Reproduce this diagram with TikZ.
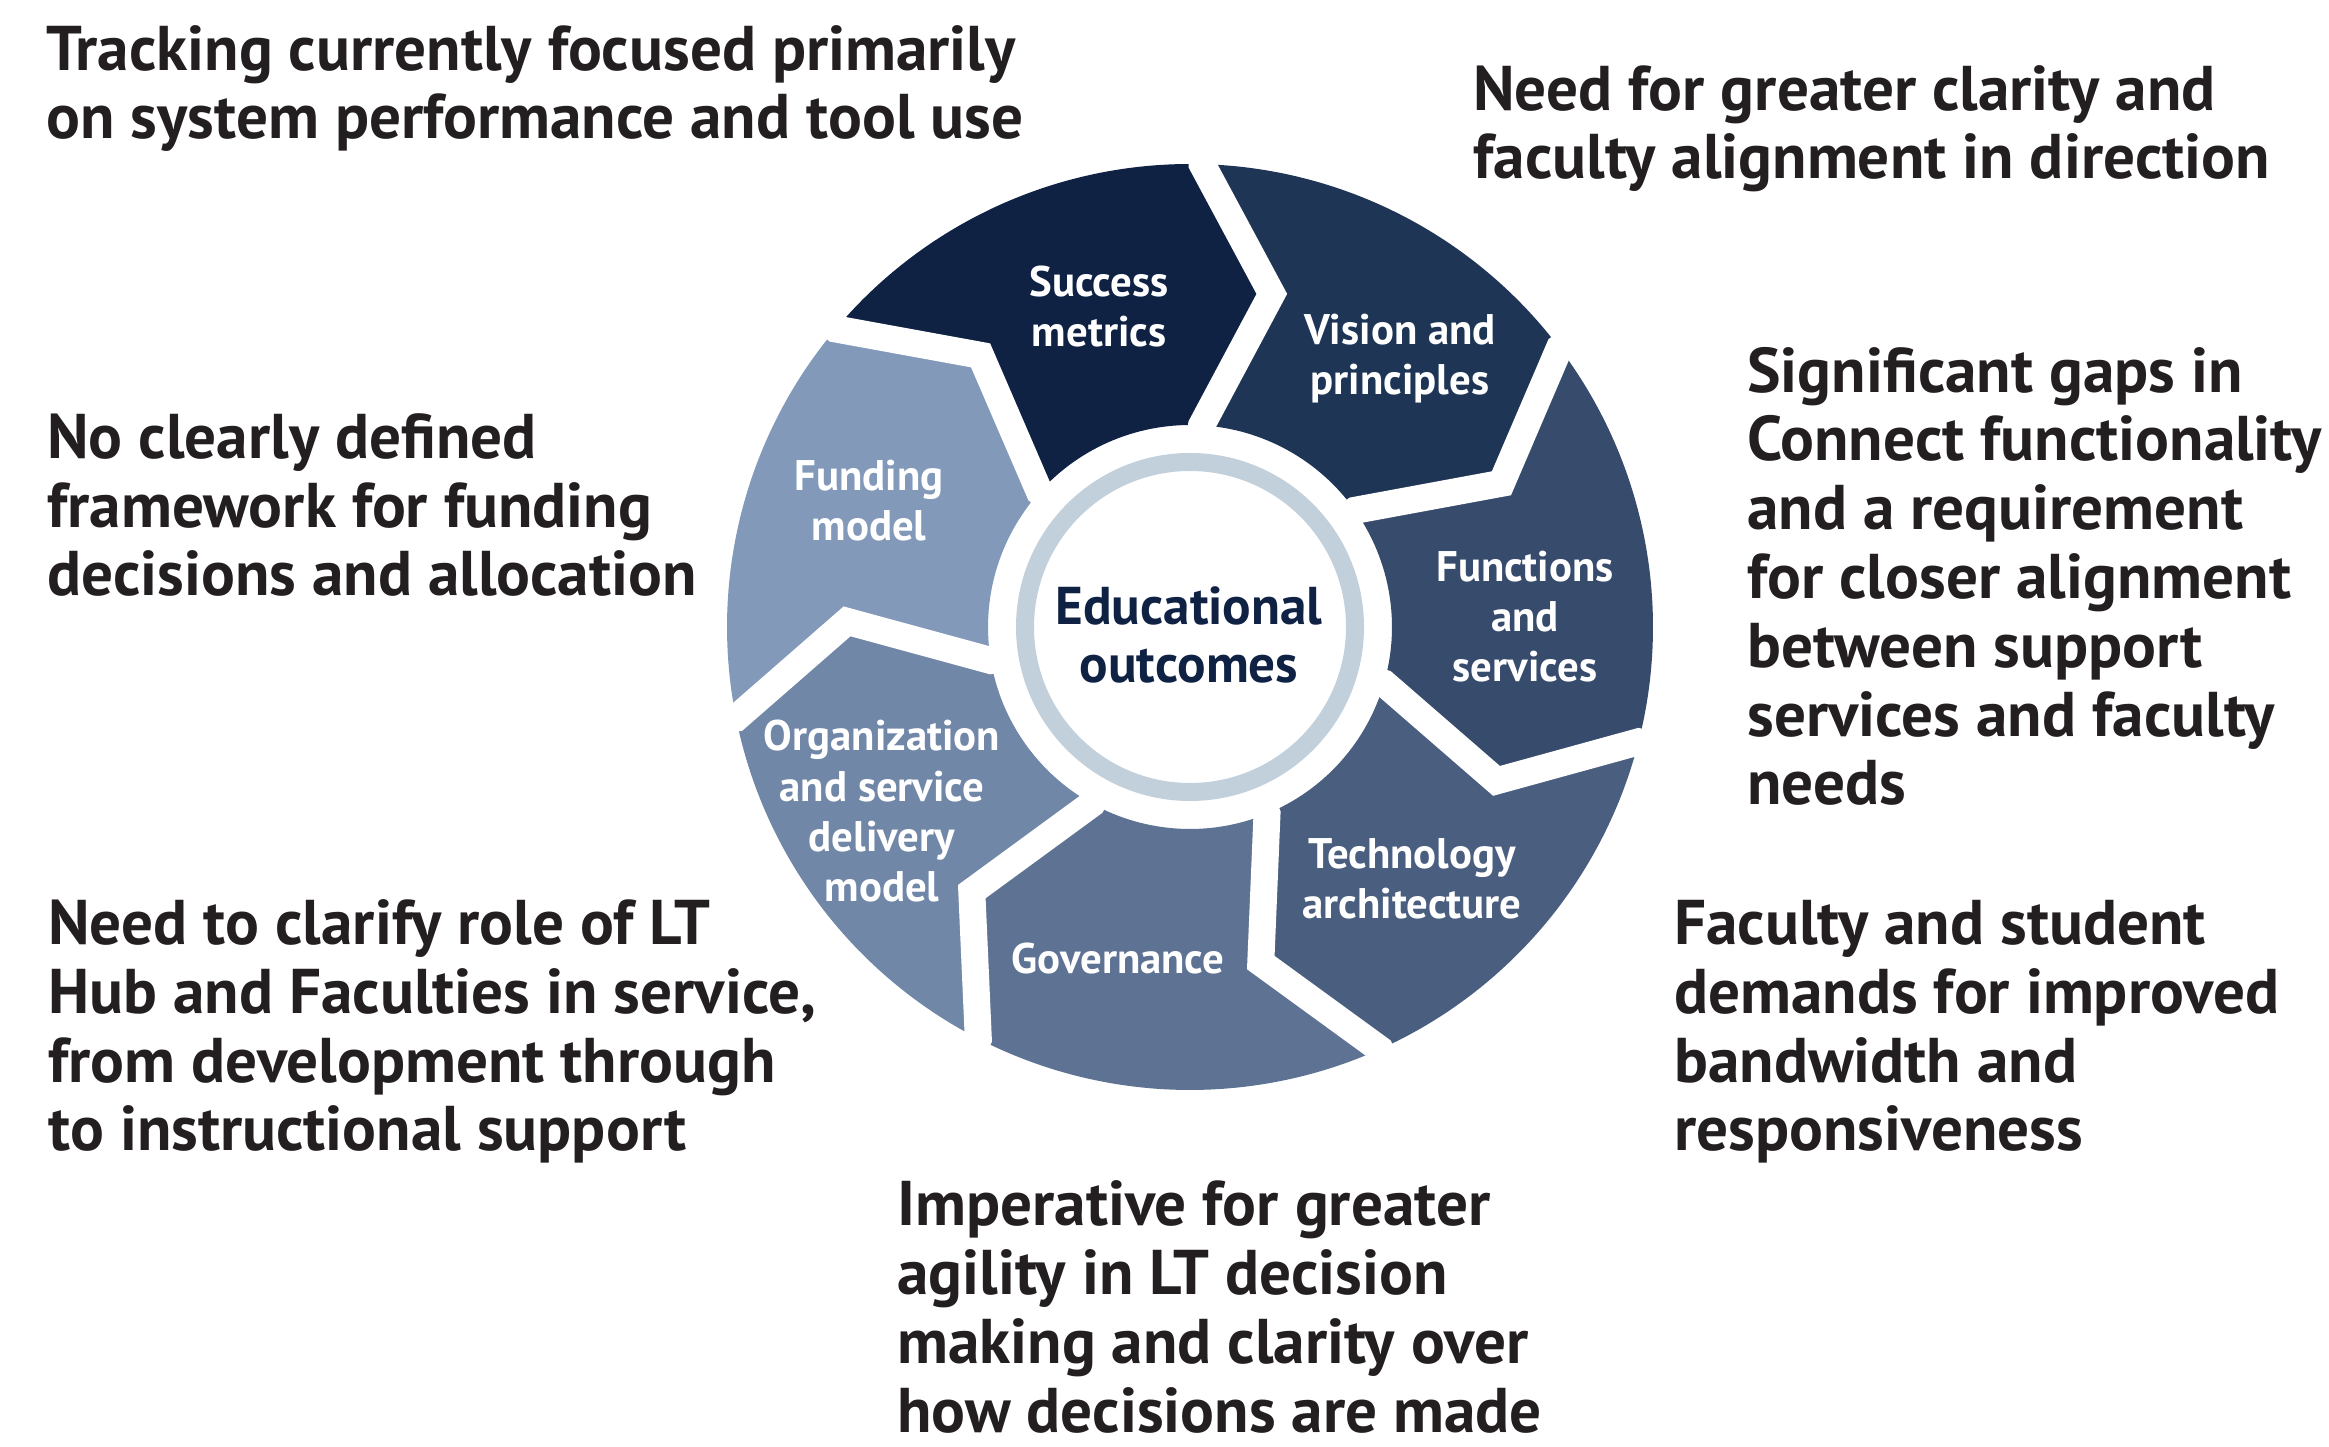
\documentclass[tikz,border=0pt]{standalone}
\usepackage{fontspec}
\setmainfont{PT Sans}
\definecolor{ink}{HTML}{231F20}
\definecolor{navy}{HTML}{0F2244}
\definecolor{segA}{HTML}{0F2244}
\definecolor{segB}{HTML}{1E3556}
\definecolor{segC}{HTML}{374B6C}
\definecolor{segD}{HTML}{4A5E7F}
\definecolor{segE}{HTML}{5E7394}
\definecolor{segF}{HTML}{7187A8}
\definecolor{segG}{HTML}{8399BA}
\definecolor{ringgrey}{HTML}{C2D0DC}
\begin{document}
\begin{tikzpicture}[x=0.5pt,y=0.5pt,
  note/.style={anchor=base west, align=left, inner sep=0pt, text=ink,
    font=\bfseries\fontsize{31.6}{34.4}\selectfont},
  seglabel/.style={anchor=base, align=center, inner sep=0pt, text=white,
    font=\bfseries\fontsize{21.4}{25.2}\selectfont},
  hub/.style={anchor=base, align=center, inner sep=0pt, text=navy,
    font=\bfseries\fontsize{26.6}{29}\selectfont},
  gap/.style={white, line width=13.5pt, line join=miter}]
\useasboundingbox (0,0) rectangle (2329,1446);

% ring geometry: outer, inner and chevron radius, chevron offsets
\def\Ro{463}\def\Ri{202}\def\Rm{343}
\def\tipoff{12.3}\def\inoff{1.8}

% one chevron segment between two boundary angles
\newcommand\chevseg[3]{%
  \fill[#3] (#1:\Ro) arc[start angle=#1, end angle=#2, radius=\Ro]
    -- ({#2-\tipoff}:\Rm) -- ({#2-\inoff}:\Ri)
    arc[start angle={#2-\inoff}, end angle={#1-\inoff}, radius=\Ri]
    -- ({#1-\tipoff}:\Rm) -- cycle;}
% white separator along one boundary
\newcommand\chevgap[1]{%
  \draw[gap] (#1:{\Ro+25}) -- (#1:\Ro) -- ({#1-\tipoff}:\Rm)
    -- ({#1-\inoff}:\Ri) -- ({#1-\inoff}:{\Ri-20});}

\coordinate (C) at (1190,819);
\begin{scope}[shift={(C)}]
  \chevseg{139.93}{88.5}{segA}
  \chevseg{88.5}{37.07}{segB}
  \chevseg{37.07}{-14.36}{segC}
  \chevseg{-14.36}{-65.79}{segD}
  \chevseg{-65.79}{-117.21}{segE}
  \chevseg{-117.21}{-168.64}{segF}
  \chevseg{191.36}{139.93}{segG}
  \foreach \b in {88.5,37.07,-14.36,-65.79,-117.21,-168.64,139.93}
    {\chevgap{\b}}
  \draw[ringgrey, line width=9pt] (0,0) circle[radius=165];
\end{scope}

% centre (anchored at the baseline of the last line)
\node[hub] (hubtext) at (1189,763) {Educational\\outcomes};

% segment labels
\node[seglabel] (success) at (1099,1099) {Success\\metrics};
\node[seglabel] (vision) at (1400,1051) {Vision and\\principles};
\node[seglabel] (functions) at (1525,764) {Functions\\and\\services};
\node[seglabel] (tech) at (1412,527) {Technology\\architecture};
\node[seglabel] (gov) at (1118,472) {Governance};
\node[seglabel] (org) at (882,544) {Organization\\and service\\delivery\\model};
\node[seglabel] (funding) at (869,905) {Funding\\model};

% surrounding observations
\node[note] (n1) at (46,1307) {Tracking currently focused primarily\\on system performance and tool use};
\node[note] (n2) at (1473,1267) {Need for greater clarity and\\faculty alignment in direction};
\node[note] (n3) at (1747,641) {Significant gaps in\\Connect functionality\\and a requirement\\for closer alignment\\between support\\services and faculty\\needs};
\node[note] (n4) at (47,850) {No clearly defined\\framework for funding\\decisions and allocation};
\node[note] (n5) at (48,295) {Need to clarify role of LT\\Hub and Faculties in service,\\from development through\\to instructional support};
\node[note] (n6) at (897,14) {Imperative for greater\\agility in LT decision\\making and clarity over\\how decisions are made};
\node[note] (n7) at (1674,295) {Faculty and student\\demands for improved\\bandwidth and\\responsiveness};
\end{tikzpicture}
\end{document}
